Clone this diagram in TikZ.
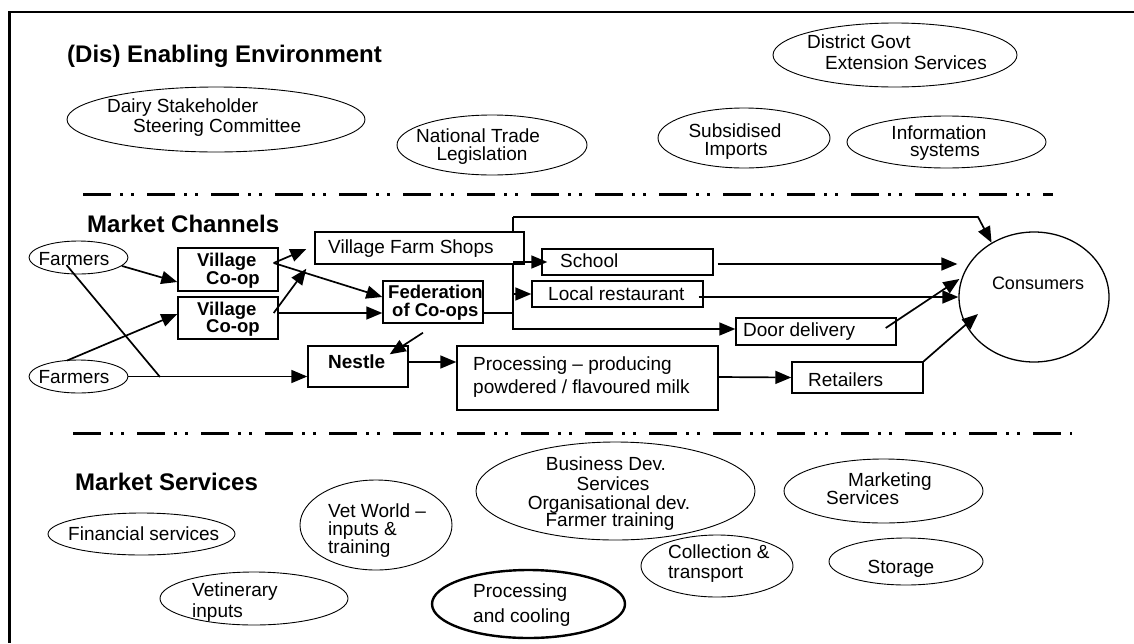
\documentclass[tikz,border=0pt]{standalone}
\usepackage{fontspec}
\setmainfont{Liberation Sans}
\usetikzlibrary{shapes.geometric,arrows.meta,calc}
\begin{document}
\begin{tikzpicture}[x=1pt,y=-1pt,
  tx/.style={inner sep=0pt, anchor=base west, font=\fontsize{19}{21}\selectfont},
  txc/.style={tx, anchor=base},
  btx/.style={inner sep=0pt, anchor=base west, font=\bfseries\fontsize{18.5}{21}\selectfont},
  ttl/.style={inner sep=0pt, anchor=base west, font=\bfseries\fontsize{24}{28}\selectfont},
  bx/.style={draw, line width=1.4pt, fill=white, inner sep=0pt},
  el/.style={draw, ellipse, line width=0.9pt, inner sep=0pt},
  arr/.style={line width=1.7pt, -{Triangle[length=16pt,width=13pt]}},
  ln/.style={line width=1.7pt},
  sep/.style={line width=3.3pt, dash pattern=on 28pt off 9pt on 3pt off 8pt on 3pt off 13pt},
]
\useasboundingbox (0,0) rectangle (1134,643);
% frame
\coordinate (ftl) at (9.5,12);
\coordinate (ftr) at (1134,12);
\coordinate (fbl) at (9.5,643);
\draw[line width=2.2pt] (ftr) -- (ftl) -- (fbl);
% separators
\coordinate (s1a) at (83,194.3);
\coordinate (s1b) at (1053,194.3);
\coordinate (s2a) at (73,433.3);
\coordinate (s2b) at (1072,433.3);
\draw[sep] (s1a) -- (s1b);
\draw[sep] (s2a) -- (s2b);

% titles
\node[ttl] (t1) at (67,62) {(Dis) Enabling Environment};
\node[ttl] (t2) at (87,232) {Market Channels};
\node[ttl] (t3) at (75,490) {Market Services};

% enabling environment
\node[el, minimum width=298pt, minimum height=65pt] (dsc) at (216,119.5) {};
\node[tx] (dsc1) at (107,112) {Dairy Stakeholder};
\node[tx] (dsc2) at (133,132) {Steering Committee};
\node[el, minimum width=190pt, minimum height=60pt] (ntl) at (492,145) {};
\node[txc] (ntl1) at (478,142) {National Trade};
\node[txc] (ntl2) at (482,160) {Legislation};
\node[el, minimum width=172pt, minimum height=60pt] (sub) at (744,138) {};
\node[txc] (sub1) at (735,137) {Subsidised};
\node[txc] (sub2) at (736,155) {Imports};
\node[el, minimum width=244pt, minimum height=64pt] (dge) at (895,55) {};
\node[tx] (dge1) at (807,48) {District Govt};
\node[tx] (dge2) at (825,69) {Extension Services};
\node[el, minimum width=199pt, minimum height=52pt] (inf) at (946.5,142) {};
\node[txc] (inf1) at (939,139) {Information};
\node[txc] (inf2) at (945,156) {systems};

% market channels: trunk (behind the farm shop box)
\coordinate (tr) at (513,217);
\coordinate (tc) at (978,217);
\node[el, line width=1.3pt, minimum width=150pt, minimum height=130pt] (cons) at (1034,297) {};
\node[txc, font=\fontsize{18}{21}\selectfont] (cons1) at (1038,289) {Consumers};
\node[bx, minimum width=160pt, minimum height=27pt] (door) at (816,331.5) {};
\draw[arr] (tr) |- ($(door.west)+(0,-2.5)$);
\draw[arr] (tr) -- (tc) -- (cons.128);

% boxes
\node[bx, minimum width=100pt, minimum height=43pt] (vc1) at (228,269.5) {};
\node[bx, minimum width=100pt, minimum height=42pt] (vc2) at (228,318) {};
\node[bx, minimum width=209pt, minimum height=32pt] (vfs) at (419.5,248) {};
\node[bx, minimum width=100pt, minimum height=42pt] (fed) at (433,302) {};
\node[bx, minimum width=100pt, minimum height=41pt] (nes) at (358,366.5) {};
\node[bx, minimum width=261pt, minimum height=64pt] (proc) at (587.5,378) {};
\node[bx, minimum width=171pt, minimum height=26pt] (school) at (627.5,262) {};
\node[bx, minimum width=171pt, minimum height=26pt] (local) at (617.5,294) {};
\node[bx, minimum width=131pt, minimum height=31pt] (retail) at (857.5,377.5) {};
\node[el, minimum width=99pt, minimum height=33pt] (farm1) at (78.5,257.5) {};
\node[el, minimum width=99pt, minimum height=33pt] (farm2) at (78.5,376.5) {};

% box texts
\node[txc] (farm1t) at (74,265) {Farmers};
\node[txc] (farm2t) at (74,383) {Farmers};
\node[btx] (vc1a) at (197,266) {Village};
\node[btx] (vc1b) at (206,284) {Co-op};
\node[btx] (vc2a) at (197,315) {Village};
\node[btx] (vc2b) at (206,332) {Co-op};
\node[tx] (vfst) at (328,253) {Village Farm Shops};
\node[btx] (feda) at (388,298) {Federation};
\node[btx] (fedb) at (392,316) {of Co-ops};
\node[btx, font=\bfseries\fontsize{19}{21}\selectfont] (nest) at (328,368) {Nestle};
\node[tx] (schoolt) at (560,267) {School};
\node[tx] (localt) at (548,300) {Local restaurant};
\node[tx] (proca) at (473,370) {Processing – producing};
\node[tx] (procb) at (473,393) {powdered / flavoured milk};
\node[tx] (doort) at (743,336) {Door delivery};
\node[tx] (retailt) at (808,386) {Retailers};

% connectors
\coordinate (mj) at (160,377);
\draw[arr] (farm1.-11) -- ($(vc1.west)+(0,12.5)$);
\draw[ln] ($(farm1.center)+(-12,7.5)$) -- (mj);
\draw[arr] (farm2.east) -- ($(nes.west)+(0,10)$);
\draw[arr] ($(farm2.north)+(-11.5,1)$) -- ($(vc2.west)+(0,-4)$);
\draw[arr] ($(vc1.east)+(-5,-6.5)$) -- ($(vfs.west)+(-8,1)$);
\draw[arr] ($(vc1.east)+(-5,-6.5)$) -- ($(fed.west)+(0,-5)$);
\draw[arr] ($(vc2.east)+(-5,-5)$) -- ($(vfs.south west)+(-8,4)$);
\draw[arr] ($(vc2.east)+(0,-5)$) -- ($(fed.west)+(0,11)$);
\draw[ln] ($(fed.east)+(0,11)$) -- (tr |- {$(fed.east)+(0,11)$});
\draw[arr] (tr |- school.west) -- ($(school.west)+(6,0)$);
\draw[arr] (tr |- local.west) -- (local.west);
\draw[arr] ($(school.east)+(4,2)$) -- ($(cons.west)+(-1,-33)$);
\draw[arr] ($(local.east)+(-5,3)$) -- (cons.west);
\draw[arr] ($(door.east)+(-11,-3.5)$) -- ($(cons.west)+(1,-18)$);
\draw[arr] (retail.north east) -- ($(cons.center)+(-56,17)$);
\draw[arr] ($(proc.east)+(0,-1)$) -- (retail.west);
\draw[arr] ($(nes.east)+(0,-4.5)$) -- ($(proc.west)+(0,-16)$);
\draw[arr] ($(fed.south)+(-10,9)$) -- ($(nes.north east)+(-19,9)$);

% market services
\node[el, minimum width=187pt, minimum height=42pt] (fin) at (141.5,534) {};
\node[tx] (fint) at (68,540) {Financial services};
\node[el, minimum width=188pt, minimum height=53pt] (vet) at (254,598.5) {};
\node[tx] (veta) at (192,596) {Vetinerary};
\node[tx] (vetb) at (192,617) {inputs};
\node[el, minimum width=152pt, minimum height=90pt] (vw) at (376,525) {};
\node[tx] (vwa) at (328,517) {Vet World –};
\node[tx] (vwb) at (328,535) {inputs \&};
\node[tx] (vwc) at (328,553) {training};
\node[el, minimum width=279pt, minimum height=98pt] (bds) at (615.5,491) {};
\node[txc] (bdsa) at (606,470) {Business Dev.};
\node[txc] (bdsb) at (613,490) {Services};
\node[txc] (bdsc) at (609,509) {Organisational dev.};
\node[txc] (bdsd) at (610,526) {Farmer training};
\node[el, minimum width=152pt, minimum height=62pt] (col) at (717,566) {};
\node[tx] (cola) at (668,558) {Collection \&};
\node[tx] (colb) at (668,578) {transport};
\node[el, line width=2.4pt, minimum width=193pt, minimum height=68pt] (pac) at (528.5,604) {};
\node[tx] (paca) at (473,597) {Processing};
\node[tx] (pacb) at (473,622) {and cooling};
\node[el, minimum width=199pt, minimum height=64pt] (mkt) at (883.5,491) {};
\node[tx] (mkta) at (848,486) {Marketing};
\node[tx] (mktb) at (826,504) {Services};
\node[el, minimum width=154pt, minimum height=47pt] (sto) at (906,561.5) {};
\node[txc] (stot) at (901,573) {Storage};
\end{tikzpicture}
\end{document}
